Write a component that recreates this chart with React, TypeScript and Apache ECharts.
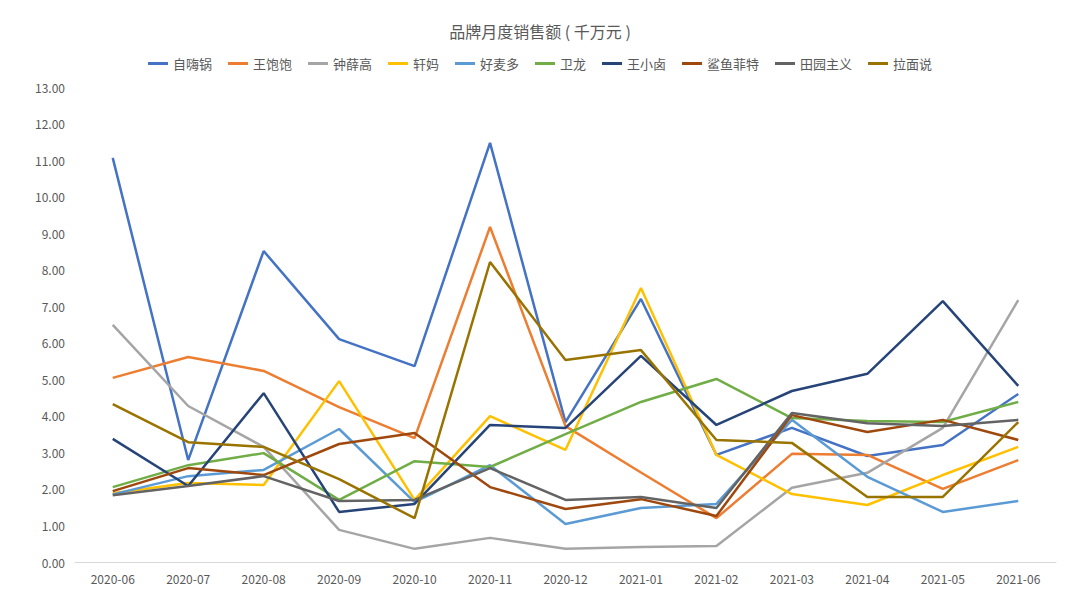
import React, { useEffect, useRef } from "react";
import * as echarts from "echarts";

const months = ["2020-06","2020-07","2020-08","2020-09","2020-10","2020-11","2020-12","2021-01","2021-02","2021-03","2021-04","2021-05","2021-06"];

const ziHaiGuo = [11.06, 2.79, 8.51, 6.10, 5.36, 11.47, 3.83, 7.20, 2.93, 3.67, 2.90, 3.20, 4.60];
const wangBaoBao = [5.04, 5.61, 5.23, 4.24, 3.39, 9.17, 3.72, 2.45, 1.20, 2.96, 2.93, 2.00, 2.79];
const zhongXueGao = [6.49, 4.27, 3.15, 0.88, 0.36, 0.66, 0.36, 0.41, 0.44, 2.03, 2.44, 3.67, 7.17];
const xuanMa = [1.88, 2.16, 2.11, 4.95, 1.70, 3.99, 3.07, 7.50, 2.93, 1.86, 1.56, 2.38, 3.15];
const haoMaiDuo = [1.85, 2.35, 2.52, 3.64, 1.64, 2.65, 1.04, 1.48, 1.59, 3.89, 2.33, 1.37, 1.67];
const weiLong = [2.05, 2.65, 2.98, 1.70, 2.76, 2.60, 3.50, 4.38, 5.01, 3.94, 3.86, 3.83, 4.38];
const wangXiaoLu = [3.37, 2.08, 4.62, 1.37, 1.59, 3.75, 3.67, 5.64, 3.75, 4.68, 5.15, 7.14, 4.82];
const shaYuFeiTe = [1.94, 2.57, 2.38, 3.23, 3.53, 2.05, 1.45, 1.72, 1.26, 4.02, 3.56, 3.89, 3.34];
const tianYuanZhuYi = [1.83, 2.08, 2.35, 1.67, 1.70, 2.57, 1.70, 1.78, 1.48, 4.08, 3.80, 3.72, 3.89];
const laMianShuo = [4.32, 3.28, 3.15, 2.27, 1.20, 8.21, 5.53, 5.80, 3.34, 3.26, 1.78, 1.78, 3.83];

const seriesNames = ["自嗨锅","王饱饱","钟薛高","轩妈","好麦多","卫龙","王小卤","鲨鱼菲特","田园主义","拉面说"];
const seriesData = [ziHaiGuo, wangBaoBao, zhongXueGao, xuanMa, haoMaiDuo, weiLong, wangXiaoLu, shaYuFeiTe, tianYuanZhuYi, laMianShuo];
const colors = ["#4472C4","#ED7D31","#A5A5A5","#FFC000","#5B9BD5","#70AD47","#264478","#9E480E","#636363","#997300"];

export default function App() {
  const ref = useRef<HTMLDivElement>(null);
  useEffect(() => {
    if (!ref.current) return;
    const chart = echarts.init(ref.current, undefined, { renderer: "svg" });
    chart.setOption({
      animation: false,
      backgroundColor: "#ffffff",
      color: colors,
      textStyle: { fontFamily: "'Noto Sans CJK SC', 'Noto Sans', sans-serif" },
      title: {
        text: "品牌月度销售额 ( 千万元 )",
        left: "center",
        top: 18,
        textStyle: { fontSize: 16, fontWeight: "normal", color: "#595959" },
      },
      legend: {
        top: 52,
        left: "center",
        itemWidth: 20,
        itemHeight: 3,
        itemGap: 16,
        icon: "rect",
        textStyle: { fontSize: 13, color: "#595959" },
        data: seriesNames,
      },
      grid: { left: 75, right: 24, top: 87, bottom: 43 },
      xAxis: {
        type: "category",
        data: months,
        boundaryGap: true,
        axisLine: { lineStyle: { color: "#D9D9D9" } },
        axisTick: { show: false },
        axisLabel: { color: "#595959", fontSize: 12, margin: 10 },
      },
      yAxis: {
        type: "value",
        min: 0,
        max: 13,
        interval: 1,
        axisLine: { show: false },
        axisTick: { show: false },
        splitLine: { show: false },
        axisLabel: {
          color: "#595959",
          fontSize: 12,
          margin: 10,
          formatter: (v: number) => v.toFixed(2),
        },
      },
      series: seriesNames.map((name, i) => ({
        name,
        type: "line",
        data: seriesData[i],
        symbol: "none",
        lineStyle: { width: 2.5, color: colors[i] },
        itemStyle: { color: colors[i] },
      })),
    });
    return () => chart.dispose();
  }, []);
  return <div ref={ref} style={{ width: 1080, height: 605, position: "absolute", left: 0, top: 0 }} />;
}
